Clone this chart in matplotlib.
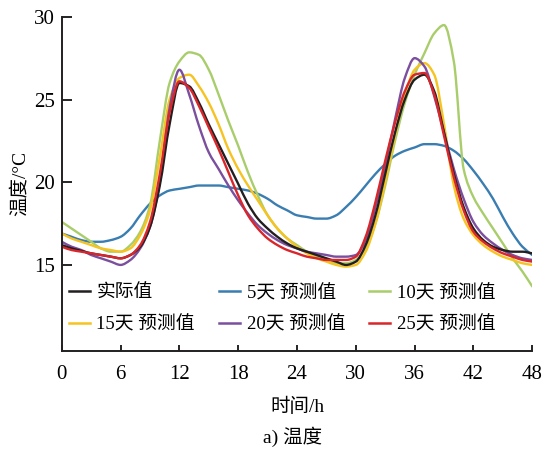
import matplotlib
matplotlib.use("Agg")
import numpy as np
import matplotlib.pyplot as plt
from matplotlib.ticker import FixedLocator
from matplotlib.path import Path
from matplotlib.patches import PathPatch
from matplotlib.lines import Line2D

plt.rcParams['font.family'] = ['Liberation Serif', 'Noto Sans CJK SC']

hours = list(range(49))

actual = [16.2, 16.0, 15.85, 15.7, 15.6, 15.5, 15.4, 15.6, 16.1, 17.3, 19.8, 23.5, 26.0,
          25.8, 24.8, 23.5, 22.3, 21.1, 19.9, 18.7, 17.8, 17.2, 16.7, 16.3, 16.0,
          15.8, 15.6, 15.4, 15.2, 15.0, 15.2, 16.2, 18.0, 20.5, 23.0, 25.0, 26.2,
          26.5, 25.5, 23.0, 20.5, 18.5, 17.2, 16.5, 16.1, 15.9, 15.8, 15.8, 15.7]

pred5 = [16.9, 16.7, 16.5, 16.4, 16.4, 16.5, 16.7, 17.2, 18.0, 18.7, 19.2, 19.5, 19.6,
         19.7, 19.8, 19.8, 19.8, 19.7, 19.6, 19.5, 19.3, 19.0, 18.6, 18.3, 18.0,
         17.9, 17.8, 17.8, 18.0, 18.5, 19.1, 19.8, 20.5, 21.1, 21.6, 21.9, 22.1,
         22.3, 22.3, 22.2, 21.9, 21.4, 20.7, 19.9, 19.0, 17.9, 16.9, 16.1, 15.6]

pred10 = [17.6, 17.2, 16.8, 16.4, 16.0, 15.8, 15.8, 16.2, 17.0, 18.6, 22.5, 26.0, 27.3,
          27.85, 27.7, 26.8, 25.3, 23.7, 22.2, 20.6, 19.2, 18.0, 17.2, 16.6, 16.2,
          15.8, 15.5, 15.3, 15.1, 15.1, 15.3, 16.0, 17.5, 19.8, 22.5, 24.8, 26.5,
          27.8, 29.0, 29.5, 27.3, 20.8, 19.1, 18.1, 17.2, 16.3, 15.4, 14.6, 13.7]

pred15 = [16.9, 16.6, 16.4, 16.2, 16.0, 15.9, 15.8, 16.0, 16.8, 18.3, 21.5, 25.0, 26.3,
          26.5, 25.8, 24.8, 23.5, 22.0, 20.8, 19.8, 18.9, 18.0, 17.2, 16.6, 16.1,
          15.7, 15.4, 15.2, 15.0, 14.9, 15.0, 15.8, 17.5, 20.0, 22.8, 25.3, 26.8,
          27.2, 26.5, 23.5, 19.8, 17.8, 16.8, 16.2, 15.8, 15.5, 15.3, 15.1, 15.0]

pred20 = [16.4, 16.1, 15.9, 15.6, 15.4, 15.2, 15.0, 15.3, 16.0, 17.3, 20.0, 24.5, 26.8,
          25.3, 23.4, 21.8, 20.8, 19.8, 18.9, 18.1, 17.4, 16.9, 16.5, 16.2, 16.0,
          15.8, 15.7, 15.6, 15.5, 15.5, 15.6, 16.5, 18.5, 21.0, 23.8, 26.3, 27.5,
          27.0, 25.2, 23.0, 20.8, 19.0, 17.6, 16.8, 16.3, 15.9, 15.6, 15.4, 15.3]

pred25 = [16.1, 15.9, 15.8, 15.7, 15.6, 15.5, 15.4, 15.6, 16.2, 17.6, 20.5, 24.2, 26.1,
          25.7, 24.6, 23.3, 22.0, 20.6, 19.2, 18.0, 17.2, 16.6, 16.2, 15.9, 15.7,
          15.5, 15.4, 15.3, 15.3, 15.3, 15.5, 16.7, 18.8, 21.3, 23.6, 25.5, 26.5,
          26.6, 25.3, 22.8, 20.3, 18.3, 17.0, 16.4, 16.0, 15.7, 15.5, 15.3, 15.2]

series = [actual, pred5, pred10, pred15, pred20, pred25]
labels = ['实际值', '5天 预测值', '10天 预测值', '15天 预测值', '20天 预测值', '25天 预测值']
colors = ['#231f20', '#3a7db0', '#a9cd6b', '#f6c320', '#7b4e9e', '#d9262b']

xticks = [0, 6, 12, 18, 24, 30, 36, 42, 48]
yticks = [15, 20, 25, 30]


def smooth_path(x, y):
    """Monotone (Fritsch-Carlson) cubic Bezier path through the data points."""
    x = np.asarray(x, float)
    y = np.asarray(y, float)
    h = np.diff(x)
    d = np.diff(y) / h
    m = np.zeros_like(y)
    m[0], m[-1] = d[0], d[-1]
    for k in range(1, len(y) - 1):
        if d[k - 1] * d[k] <= 0:
            m[k] = 0.0
        else:
            w1 = 2 * h[k] + h[k - 1]
            w2 = h[k] + 2 * h[k - 1]
            m[k] = (w1 + w2) / (w1 / d[k - 1] + w2 / d[k])
    verts = [(x[0], y[0])]
    codes = [Path.MOVETO]
    for k in range(len(x) - 1):
        verts += [(x[k] + h[k] / 3, y[k] + m[k] * h[k] / 3),
                  (x[k + 1] - h[k] / 3, y[k + 1] - m[k + 1] * h[k] / 3),
                  (x[k + 1], y[k + 1])]
        codes += [Path.CURVE4] * 3
    return Path(verts, codes)


fig = plt.figure(figsize=(5.42, 4.54), dpi=100)
ax = fig.add_axes([0.114, 0.227, 0.868, 0.736])

order = [1, 2, 3, 4, 0, 5]
for z, i in enumerate(order):
    patch = PathPatch(smooth_path(hours, series[i]), facecolor='none',
                      edgecolor=colors[i], lw=1.7, zorder=2 + z * 0.1,
                      capstyle='round', joinstyle='round')
    ax.add_patch(patch)

ax.set_xlim(0, 48)
ax.set_ylim(9.8, 30)
ax.spines['top'].set_visible(False)
ax.spines['right'].set_visible(False)
for s in ['left', 'bottom']:
    ax.spines[s].set_linewidth(1.4)
    ax.spines[s].set_color('#231f20')

ax.xaxis.set_major_locator(FixedLocator(xticks))
ax.yaxis.set_major_locator(FixedLocator(yticks))
ax.xaxis.set_minor_locator(FixedLocator([12, 24, 36, 48]))
ax.tick_params(axis='x', which='major', direction='in', length=4, width=1.2,
               labelsize=15, pad=10)
ax.tick_params(axis='x', which='minor', direction='in', length=7, width=1.2)
ax.tick_params(axis='y', which='major', direction='in', length=7, width=1.2,
               labelsize=15, pad=5)

ax.set_xlabel('时间/h', fontsize=14, labelpad=10)
ax.set_ylabel('温度/°C', fontsize=14, labelpad=4)

proxies = [Line2D([], [], color=c, lw=1.8) for c in colors]
leg_order = [0, 3, 1, 4, 2, 5]
ax.legend([proxies[i] for i in leg_order], [labels[i] for i in leg_order],
          ncol=3, frameon=False, fontsize=13.5,
          loc='lower left', bbox_to_anchor=(-0.012, 0.013),
          handlelength=1.1, handletextpad=0.35, columnspacing=1.3,
          labelspacing=0.75, borderaxespad=0.3)

fig.text(0.54, 0.037, 'a) 温度', ha='center', va='center', fontsize=14)

fig.savefig('out.png', dpi=100)
